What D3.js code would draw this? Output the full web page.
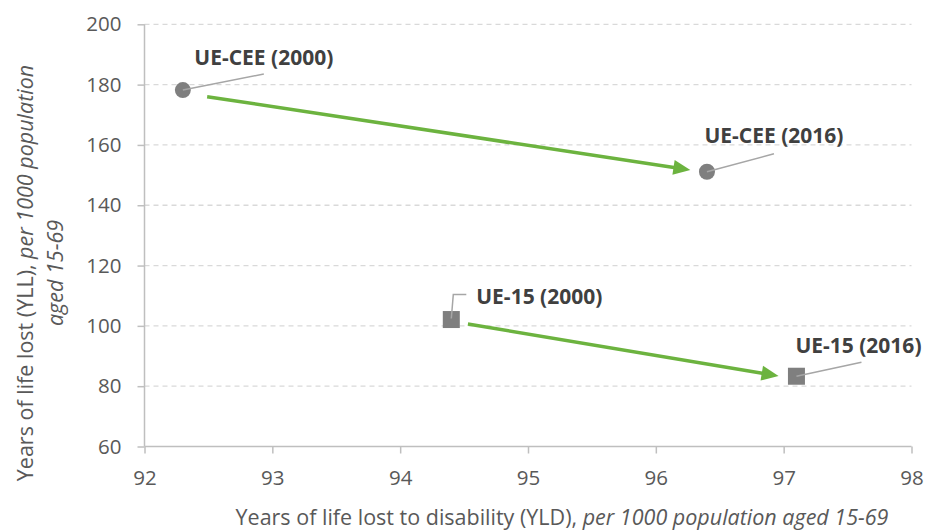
<!DOCTYPE html>
<html><head><meta charset="utf-8">
<script src="https://cdn.jsdelivr.net/npm/d3@7"></script>
<style>
html,body{margin:0;padding:0;background:#fff;}
svg{display:block;font-family:"Open Sans", Lato, sans-serif;}
</style></head>
<body><svg id="chart" width="925" height="530"></svg>
<script>
// ---- data ----
const labels = ["UE-CEE (2000)", "UE-CEE (2016)", "UE-15 (2000)", "UE-15 (2016)"];
const yldValues = [92.3, 96.4, 94.4, 97.1];
const yllValues = [178.2, 151.1, 102.1, 83.3];
const markerShapes = ["circle", "circle", "square", "square"];
// arrows (data units): start x, start y, end x, end y
const arrowFromX = [92.49, 94.53];
const arrowFromY = [176.0, 100.6];
const arrowToX = [96.27, 96.96];
const arrowToY = [151.7, 83.4];
const xTicks = [92, 93, 94, 95, 96, 97, 98];
const yTicks = [60, 80, 100, 120, 140, 160, 180, 200];

// ---- layout ----
const svg = d3.select("#chart");
const pLeft = 144.5, pRight = 911.5, pTop = 24.3, pBottom = 446.5;
const x = d3.scaleLinear().domain([92, 98]).range([pLeft, pRight]);
const y = d3.scaleLinear().domain([60, 200]).range([pBottom, pTop]);
const FONT = '"Open Sans", Lato, sans-serif';

// gridlines
svg.append("g").selectAll("line").data(yTicks.filter(d => d !== 60)).join("line")
  .attr("x1", pLeft).attr("x2", pRight)
  .attr("y1", d => y(d)).attr("y2", d => y(d))
  .attr("stroke", "#D9D9D9").attr("stroke-width", 1.3).attr("stroke-dasharray", "5,4");

// axes
const yAxis = svg.append("g").attr("transform", `translate(${pLeft},0)`)
  .call(d3.axisLeft(y).tickValues(yTicks).tickSize(7).tickPadding(16).tickFormat(d3.format("d")));
const xAxis = svg.append("g").attr("transform", `translate(0,${pBottom})`)
  .call(d3.axisBottom(x).tickValues(xTicks).tickSize(7).tickPadding(17).tickFormat(d3.format("d")));
[yAxis, xAxis].forEach(g => {
  g.select(".domain").attr("stroke", "#BFBFBF").attr("stroke-width", 1.5);
  g.selectAll(".tick line").attr("stroke", "#BFBFBF").attr("stroke-width", 1.5);
  g.selectAll(".tick text").attr("fill", "#595959").attr("font-size", 20.5)
   .attr("font-family", FONT);
});
yAxis.select(".domain").attr("d", `M0,${pBottom}V${pTop}`);
xAxis.select(".domain").attr("d", `M${pLeft},0H${pRight}`);

// arrows
const green = "#6CB33F";
const arrowData = arrowFromX.map((d, i) => ({x1: x(d), y1: y(arrowFromY[i]), x2: x(arrowToX[i]), y2: y(arrowToY[i])}));
const ag = svg.append("g");
arrowData.forEach(a => {
  const ang = Math.atan2(a.y2 - a.y1, a.x2 - a.x1);
  const headL = 17, headW = 7.5;
  const bx = a.x2 - headL * Math.cos(ang), by = a.y2 - headL * Math.sin(ang);
  ag.append("line").attr("x1", a.x1).attr("y1", a.y1).attr("x2", bx + 2 * Math.cos(ang)).attr("y2", by + 2 * Math.sin(ang))
    .attr("stroke", green).attr("stroke-width", 3.5);
  const px = -Math.sin(ang), py = Math.cos(ang);
  ag.append("path").attr("d", `M${a.x2},${a.y2}L${bx + px * headW},${by + py * headW}L${bx - px * headW},${by - py * headW}Z`)
    .attr("fill", green);
});

// leader lines (pixel offsets from the marker)
const leaders = [
  [[0, 0], [81, -16]],
  [[0, 0], [67, -18]],
  [[0, -1], [2, -25], [15, -25]],
  [[0, 0], [65, -14]]
];
const labelOffsets = [[81, -25], [67, -28.5], [88, -16], [62, -23]];
const pts = labels.map((l, i) => ({label: l, cx: x(yldValues[i]), cy: y(yllValues[i]), shape: markerShapes[i]}));

// markers
const mg = svg.append("g");
pts.forEach(d => {
  if (d.shape === "circle") {
    mg.append("circle").attr("cx", d.cx).attr("cy", d.cy).attr("r", 8).attr("fill", "#7F7F7F");
  } else {
    mg.append("rect").attr("x", d.cx - 8.5).attr("y", d.cy - 8.5).attr("width", 17).attr("height", 17).attr("fill", "#7F7F7F");
  }
});
// leader lines drawn over markers
svg.append("g").selectAll("path").data(pts).join("path")
  .attr("d", (d, i) => d3.line()(leaders[i].map(p => [d.cx + p[0], d.cy + p[1]])))
  .attr("fill", "none").attr("stroke", "#A6A6A6").attr("stroke-width", 1.5);

// labels
svg.append("g").selectAll("text").data(pts).join("text")
  .attr("x", (d, i) => d.cx + labelOffsets[i][0])
  .attr("y", (d, i) => d.cy + labelOffsets[i][1])
  .attr("text-anchor", "middle").attr("font-weight", "bold").attr("font-size", 21)
  .attr("fill", "#404040").text(d => d.label);

// axis titles
const xt = svg.append("text").attr("x", 562).attr("y", 525).attr("text-anchor", "middle")
  .attr("font-size", 21.5).attr("fill", "#595959");
xt.append("tspan").text("Years of life lost to disability (YLD), ");
xt.append("tspan").attr("font-style", "italic").text("per 1000 population aged 15-69");

const yt = svg.append("text").attr("transform", "translate(0,273) rotate(-90)").attr("text-anchor", "middle")
  .attr("font-size", 21.5).attr("fill", "#595959");
yt.append("tspan").attr("x", 0).attr("y", 33).text("Years of life lost (YLL), ")
  .append("tspan").attr("font-style", "italic").text("per 1000 population");
yt.append("tspan").attr("x", 0).attr("y", 63).attr("font-style", "italic").text("aged 15-69");
</script>
</body></html>
